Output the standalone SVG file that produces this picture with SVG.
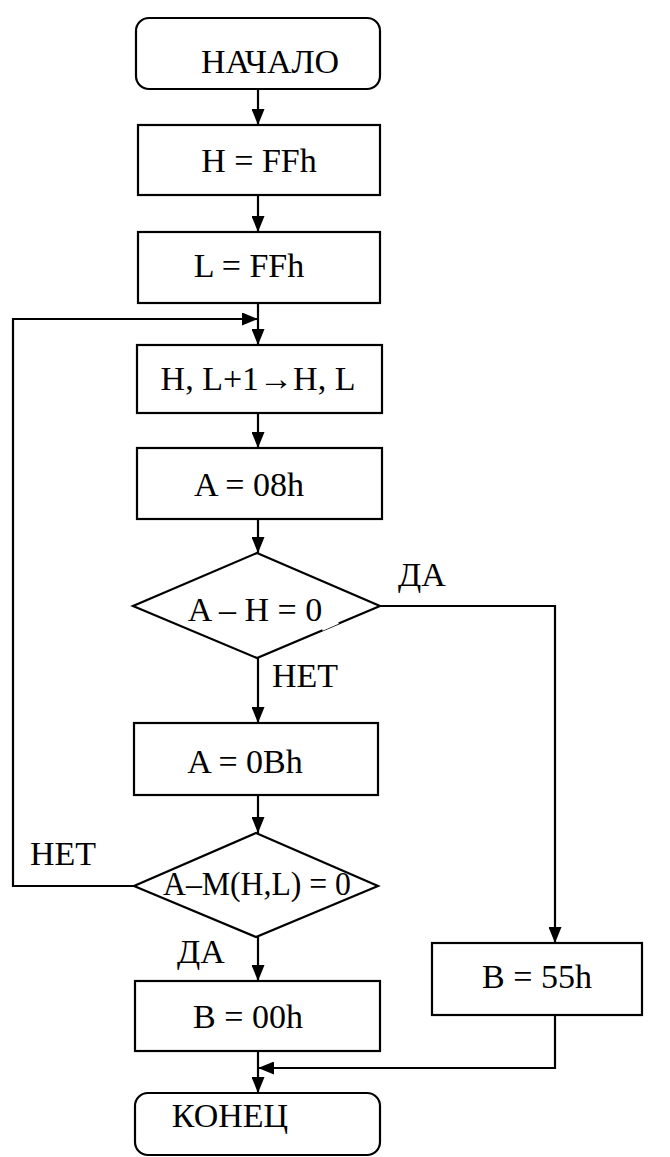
<svg xmlns="http://www.w3.org/2000/svg" width="670" height="1157" viewBox="0 0 670 1157" font-family="'Liberation Serif', 'Times New Roman', Times, serif">
  <defs>
    <marker id="arrow" viewBox="0 0 16 13" refX="16" refY="6.5" markerWidth="16" markerHeight="13" markerUnits="userSpaceOnUse" orient="auto">
      <path d="M0,0 L16,6.5 L0,13 Z" fill="#000"/>
    </marker>
    <style>
      .box { fill: #fff; stroke: #000; stroke-width: 2.2; }
      .arr { fill: none; stroke: #000; stroke-width: 2.2; marker-end: url(#arrow); }
      .t { font-family: 'Liberation Serif', 'Times New Roman', Times, serif; font-size: 34px; fill: #000; }
      .c { text-anchor: middle; }
    </style>
  </defs>
  <rect width="670" height="1157" fill="#fff"/>

  <!-- connectors -->
  <g id="connectors">
    <line class="arr" x1="258" y1="89" x2="258" y2="125"/>
    <line class="arr" x1="258" y1="195" x2="258" y2="232"/>
    <line class="arr" x1="258" y1="303" x2="258" y2="345"/>
    <line class="arr" x1="258" y1="413" x2="258" y2="448"/>
    <line class="arr" x1="258" y1="519" x2="258" y2="553"/>
    <line class="arr" x1="258" y1="658" x2="258" y2="723"/>
    <line class="arr" x1="258" y1="795" x2="258" y2="833"/>
    <line class="arr" x1="258" y1="937" x2="258" y2="981"/>
    <line class="arr" x1="258" y1="1051" x2="258" y2="1093"/>
    <!-- loop back on НЕТ -->
    <polyline class="arr" points="134,886 13,886 13,319 258,319"/>
    <!-- ДА branch to B = 55h -->
    <polyline class="arr" points="380,606 555,606 555,943"/>
    <!-- join from B = 55h -->
    <polyline class="arr" points="555,1015 555,1068 258,1068"/>
  </g>

  <g id="start">
    <rect class="box" x="136" y="18" width="244" height="71" rx="13"/>
    <text x="270" y="73" class="t c">НАЧАЛО</text>
  </g>
  <g id="set-h">
    <rect class="box" x="138" y="125" width="242" height="70"/>
    <text x="259" y="172" class="t c">H = FFh</text>
  </g>
  <g id="set-l">
    <rect class="box" x="138" y="232" width="242" height="71"/>
    <text x="249" y="277" class="t c">L = FFh</text>
  </g>
  <g id="inc-hl">
    <rect class="box" x="137" y="345" width="245" height="68"/>
    <text x="258" y="390" class="t c">H, L+1→H, L</text>
  </g>
  <g id="set-a-08">
    <rect class="box" x="137" y="448" width="245" height="71"/>
    <text x="249" y="496" class="t c">A = 08h</text>
  </g>
  <g id="check-h">
    <polygon class="box" points="257,553 380,606 257,658 133,606"/>
    <!-- break in the lower right edge behind the label -->
    <line x1="322" y1="629" x2="338" y2="622" stroke="#fff" stroke-width="4"/>
    <text x="255" y="621" class="t c">A – H = 0</text>
  </g>
  <g id="set-a-0b">
    <rect class="box" x="134" y="723" width="244" height="72"/>
    <text x="245" y="773" class="t c">A = 0Bh</text>
  </g>
  <g id="check-m">
    <polygon class="box" points="256,833 378,886 256,937 134,886"/>
    <text x="257" y="895" class="t c" textLength="188" lengthAdjust="spacingAndGlyphs">A–M(H,L) = 0</text>
  </g>
  <g id="set-b-00">
    <rect class="box" x="135" y="981" width="245" height="70"/>
    <text x="248" y="1028" class="t c">B = 00h</text>
  </g>
  <g id="set-b-55">
    <rect class="box" x="432" y="943" width="210" height="72"/>
    <text x="537" y="988" class="t c">B = 55h</text>
  </g>
  <g id="end">
    <rect class="box" x="135" y="1093" width="245" height="62" rx="13"/>
    <text x="230" y="1127" class="t c">КОНЕЦ</text>
  </g>

  <g id="labels">
    <text x="398" y="586" class="t">ДА</text>
    <text x="272" y="687" class="t">НЕТ</text>
    <text x="30" y="865" class="t">НЕТ</text>
    <text x="177" y="963" class="t">ДА</text>
  </g>
</svg>
